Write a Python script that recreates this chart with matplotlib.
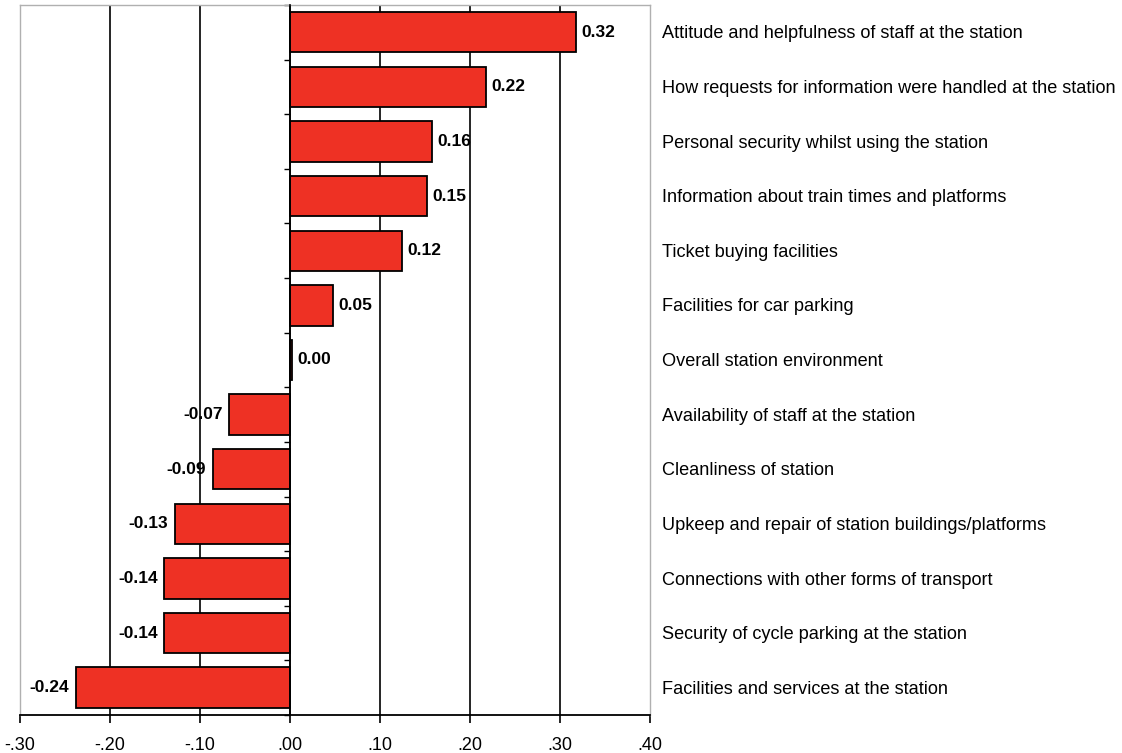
import numpy as np
import matplotlib
matplotlib.use("Agg")
import matplotlib.pyplot as plt
import matplotlib.transforms as mtransforms

# ---- data, top to bottom ----
categories = [
    "Attitude and helpfulness of staff at the station",
    "How requests for information were handled at the station",
    "Personal security whilst using the station",
    "Information about train times and platforms",
    "Ticket buying facilities",
    "Facilities for car parking",
    "Overall station environment",
    "Availability of staff at the station",
    "Cleanliness of station",
    "Upkeep and repair of station buildings/platforms",
    "Connections with other forms of transport",
    "Security of cycle parking at the station",
    "Facilities and services at the station",
]
values = [0.318, 0.218, 0.158, 0.152, 0.124, 0.048, 0.002,
          -0.068, -0.086, -0.128, -0.140, -0.140, -0.238]
x_ticks = [-0.30, -0.20, -0.10, 0.00, 0.10, 0.20, 0.30, 0.40]
x_tick_labels = ["-.30", "-.20", "-.10", ".00", ".10", ".20", ".30", ".40"]

BAR_RED = "#EE3124"
plt.rcParams["font.family"] = ["Liberation Sans", "DejaVu Sans"]


def main():
    fig = plt.figure(figsize=(11.22, 7.53), dpi=100)
    ax = fig.add_axes([0.0178, 0.0505, 0.5615, 0.9429])

    n = len(categories)
    y = np.arange(n)[::-1]

    ax.barh(y, values, height=0.74, color=BAR_RED, edgecolor="black",
            linewidth=1.3, zorder=3)

    ax.set_xlim(-0.30, 0.40)
    ax.set_ylim(-0.5, n - 0.5)

    # vertical gridlines
    for xt in x_ticks[1:-1]:
        ax.axvline(xt, color="black", linewidth=1.2, zorder=1)

    # frame: light grey box, black zero axis and bottom axis
    for side in ("top", "right"):
        ax.spines[side].set_color("#b0b0b0")
        ax.spines[side].set_linewidth(1.0)
    ax.spines["left"].set_position(("data", 0))
    ax.spines["left"].set_color("black")
    ax.spines["left"].set_linewidth(1.2)
    ax.spines["left"].set_zorder(4)
    ax.spines["bottom"].set_color("black")
    ax.spines["bottom"].set_linewidth(1.3)
    ax.axvline(-0.30, color="#b0b0b0", linewidth=1.0, clip_on=False)

    ax.set_xticks(x_ticks)
    ax.set_xticklabels(x_tick_labels, fontsize=13)
    ax.tick_params(axis="x", direction="out", length=6, width=1.2, pad=10)

    ax.set_yticks(np.arange(n + 1) - 0.5)
    ax.set_yticklabels([])
    ax.tick_params(axis="y", direction="out", length=4, width=1.0)

    # value labels
    for yi, v in zip(y, values):
        txt = f"{v:.2f}"
        if v >= 0:
            ax.text(v + 0.006, yi, txt, ha="left", va="center",
                    fontsize=12.5, fontweight="bold", zorder=5)
        else:
            ax.text(v - 0.007, yi, txt, ha="right", va="center",
                    fontsize=12.5, fontweight="bold", zorder=5)

    # category labels on the right
    trans = mtransforms.blended_transform_factory(ax.transAxes, ax.transData)
    for yi, cat in zip(y, categories):
        ax.text(1.019, yi - 0.03, cat, transform=trans, ha="left", va="center",
                fontsize=13.1, clip_on=False)

    fig.savefig("out.png", dpi=100)
    plt.close(fig)


if __name__ == "__main__":
    main()
